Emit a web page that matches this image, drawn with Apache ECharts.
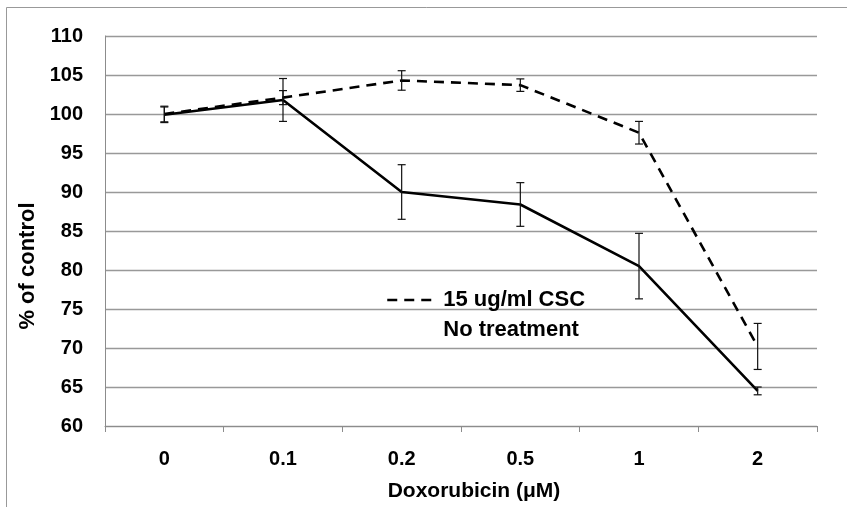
<!DOCTYPE html>
<html>
<head>
<meta charset="utf-8">
<script src="https://cdn.jsdelivr.net/npm/echarts@6/dist/echarts.min.js"></script>
<style>
  html, body { margin: 0; padding: 0; background: #fff; }
  #chart { width: 847px; height: 507px; }
</style>
</head>
<body>
<div id="chart"></div>
<script>
var doses = ["0", "0.1", "0.2", "0.5", "1", "2"];
var yTicks = [60, 65, 70, 75, 80, 85, 90, 95, 100, 105, 110];

// 15 ug/ml CSC (dashed)
var cscValues = [100, 102.1, 104.3, 103.7, 97.6, 70.2];
var cscErrors = [1.0, 0.9, 1.25, 0.8, 1.45, 2.95];

// No treatment (solid)
var noTreatValues = [99.9, 101.8, 90.0, 88.4, 80.5, 64.5];
var noTreatErrors = [1.0, 2.75, 3.5, 2.8, 4.2, 0.5];

var fontFam = "'Liberation Sans', Arial, sans-serif";

function errData(values, errors) {
    return values.map(function (v, i) {
        return [i, v - errors[i], v + errors[i]];
    });
}

function renderErr(params, api) {
    var x = api.value(0);
    var lo = api.coord([x, api.value(1)]);
    var hi = api.coord([x, api.value(2)]);
    var w = 4;
    var style = { stroke: '#111', lineWidth: 1.2 };
    return {
        type: 'group',
        children: [
            { type: 'line', shape: { x1: lo[0], y1: lo[1], x2: hi[0], y2: hi[1] }, style: style },
            { type: 'line', shape: { x1: lo[0] - w, y1: lo[1], x2: lo[0] + w, y2: lo[1] }, style: style },
            { type: 'line', shape: { x1: hi[0] - w, y1: hi[1], x2: hi[0] + w, y2: hi[1] }, style: style }
        ]
    };
}

var myEcharts = echarts.init(document.getElementById('chart'));
var option = {
    backgroundColor: '#fff',
    animation: false,
    textStyle: { fontFamily: fontFam },
    grid: { left: 105, right: 30, top: 36, bottom: 81, containLabel: false },
    graphic: [
        { type: 'line', shape: { x1: 6.5, y1: 7.5, x2: 847, y2: 7.5 }, style: { stroke: '#999', lineWidth: 1 } },
        { type: 'line', shape: { x1: 6.5, y1: 7.5, x2: 6.5, y2: 507 }, style: { stroke: '#999', lineWidth: 1 } }
    ],
    legend: {
        orient: 'vertical',
        left: 386,
        top: 289,
        padding: 0,
        itemWidth: 51,
        itemHeight: 14,
        itemGap: 8,
        textStyle: { fontFamily: fontFam, fontWeight: 'bold', fontSize: 22, color: '#000' },
        data: [
            { name: '15 ug/ml CSC', itemStyle: { opacity: 0 }, lineStyle: { width: 2.5 } },
            { name: 'No treatment', itemStyle: { opacity: 0 }, lineStyle: { opacity: 0 } }
        ]
    },
    xAxis: {
        type: 'category',
        data: doses,
        name: 'Doxorubicin (μM)',
        nameLocation: 'middle',
        nameGap: 55,
        nameTextStyle: { fontFamily: fontFam, fontWeight: 'bold', fontSize: 21, color: '#000', padding: [0, 0, 0, 26] },
        axisLine: { lineStyle: { color: '#8c8c8c', width: 1 } },
        axisTick: { show: true, length: 6, lineStyle: { color: '#8c8c8c' } },
        axisLabel: { margin: 23, fontFamily: fontFam, fontWeight: 'bold', fontSize: 20, color: '#000' },
        splitLine: { show: false }
    },
    yAxis: {
        type: 'value',
        min: yTicks[0],
        max: yTicks[yTicks.length - 1],
        interval: 5,
        name: '% of control',
        nameLocation: 'middle',
        nameRotate: 90,
        nameGap: 62,
        nameTextStyle: { fontFamily: fontFam, fontWeight: 'bold', fontSize: 22, color: '#000', padding: [0, 70, 0, 0] },
        axisLine: { show: true, lineStyle: { color: '#8c8c8c', width: 1 } },
        axisTick: { show: false },
        axisLabel: { margin: 22, fontFamily: fontFam, fontWeight: 'bold', fontSize: 20, color: '#000' },
        splitLine: { show: true, lineStyle: { color: '#999', width: 1.3 } }
    },
    series: [
        {
            name: '15 ug/ml CSC',
            type: 'line',
            data: cscValues,
            symbol: 'none',
            lineStyle: { color: '#000', width: 2.6, type: [10, 7] },
            itemStyle: { color: '#000' },
            z: 3
        },
        {
            name: 'No treatment',
            type: 'line',
            data: noTreatValues,
            symbol: 'none',
            lineStyle: { color: '#000', width: 2.6 },
            itemStyle: { color: '#000' },
            z: 3
        },
        {
            name: 'csc-err',
            type: 'custom',
            renderItem: renderErr,
            data: errData(cscValues, cscErrors),
            z: 4
        },
        {
            name: 'nt-err',
            type: 'custom',
            renderItem: renderErr,
            data: errData(noTreatValues, noTreatErrors),
            z: 4
        }
    ]
};
myEcharts.setOption(option);
</script>
</body>
</html>
